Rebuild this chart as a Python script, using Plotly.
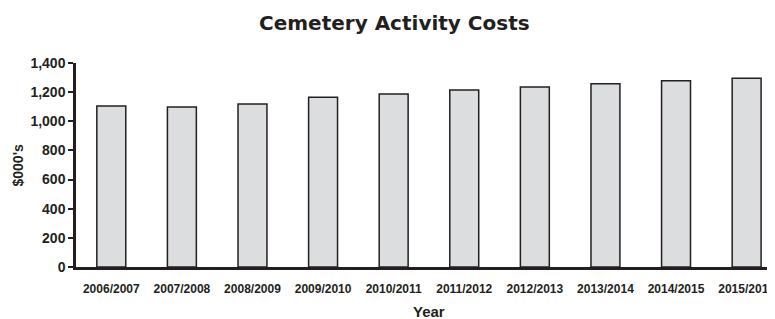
import plotly.graph_objects as go

years = ["2006/2007", "2007/2008", "2008/2009", "2009/2010", "2010/2011",
         "2011/2012", "2012/2013", "2013/2014", "2014/2015", "2015/2016"]
costs = [1105, 1098, 1118, 1165, 1187, 1214, 1235, 1257, 1278, 1295]
y_ticks = [0, 200, 400, 600, 800, 1000, 1200, 1400]
y_tick_labels = ["0", "200", "400", "600", "800", "1,000", "1,200", "1,400"]

# page has an 8px body margin; figure sized so it fills the 775x319 window
OFF = 8
W, H = 775 - OFF, 319 - OFF
ML, MR, MT, MB = 76 - OFF, 0, 63 - OFF, 52
PW, PH = W - ML - MR, H - MT - MB
ink = "#231f20"
font = "Liberation Sans, Arial, sans-serif"


def px(xp):
    return (xp - OFF - ML) / PW


def py(yp):
    return (H - MB - (yp - OFF)) / PH


fig = go.Figure(go.Bar(
    x=years, y=costs,
    marker=dict(color="#dcdddf", line=dict(color=ink, width=1.5)),
))

fig.update_layout(
    width=W, height=H,
    margin=dict(l=ML, r=MR, t=MT, b=MB, pad=0),
    plot_bgcolor="white", paper_bgcolor="white",
    bargap=0.59, showlegend=False,
    font=dict(family=font, color=ink),
    xaxis=dict(
        type="category", range=[-0.5, 9.317],
        showline=True, linecolor=ink, linewidth=2.5,
        ticks="outside", ticklen=9, tickcolor="rgba(0,0,0,0)",
        tickfont=dict(size=12, family=font, color=ink, weight="bold"),
        showgrid=False, zeroline=False, fixedrange=True,
    ),
    yaxis=dict(
        range=[0, 1400], tickvals=y_ticks, ticktext=y_tick_labels,
        showline=True, linecolor=ink, linewidth=2.5,
        ticks="outside", ticklen=5, tickwidth=1.5, tickcolor=ink,
        tickfont=dict(size=14, family=font, color=ink, weight="bold"),
        showgrid=False, zeroline=False,
    ),
    annotations=[
        dict(text="<b>Cemetery Activity Costs</b>", xref="paper", yref="paper",
             x=px(397), y=py(23),
             xanchor="center", yanchor="middle", showarrow=False,
             font=dict(size=20, family="DejaVu Sans, sans-serif", color=ink)),
        dict(text="<b>Year</b>", xref="paper", yref="paper",
             x=px(432), y=py(311),
             xanchor="center", yanchor="middle", showarrow=False,
             font=dict(size=15, family=font, color=ink)),
        dict(text="<b>$000's</b>", xref="paper", yref="paper",
             x=px(18), y=0.5, textangle=-90,
             xanchor="center", yanchor="middle", showarrow=False,
             font=dict(size=14, family=font, color=ink)),
    ],
)

fig.write_html("out.html")
